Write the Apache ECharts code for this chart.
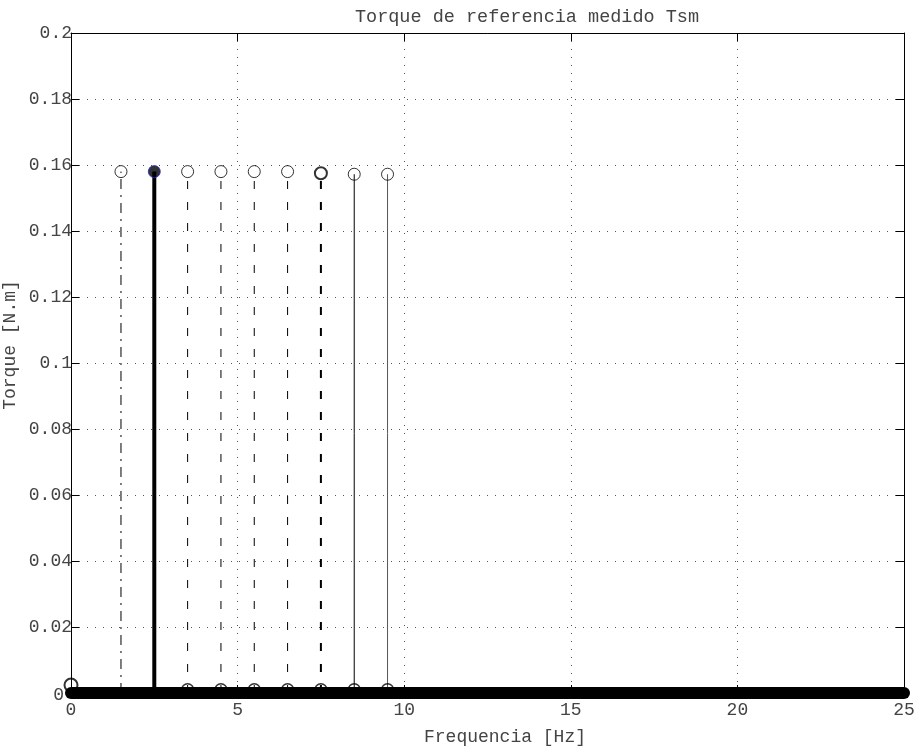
<!DOCTYPE html>
<html>
<head>
<meta charset="utf-8">
<script src="https://cdn.jsdelivr.net/npm/echarts@6/dist/echarts.min.js"></script>
<style>
  html, body { margin: 0; padding: 0; background: #fff; }
  #chart { width: 923px; height: 747px; }
</style>
</head>
<body>
<div id="chart"></div>
<script>
// Harmonic content of the measured reference torque (stem plot)
const stemFreq   = [1.5, 2.5, 3.5, 4.5, 5.5, 6.5, 7.5, 8.5, 9.5];
const stemTorque = [0.158, 0.158, 0.158, 0.158, 0.158, 0.158, 0.1575, 0.1572, 0.1572];
// Near-zero markers of each stem group, showing on the baseline
const baseFreq   = [3.5, 4.5, 5.5, 6.5, 7.5, 8.5, 9.5];
const baseTorque = [0.001, 0.001, 0.001, 0.001, 0.001, 0.001, 0.001];
// DC component
const dcFreq = [0];
const dcTorque = [0.0024];
// Dense baseline of zero-valued samples over the whole span
const floorFreq = [0, 25];
const floorTorque = [0, 0];

const xTicks = [0, 5, 10, 15, 20, 25];
const yTicks = [0, 0.02, 0.04, 0.06, 0.08, 0.1, 0.12, 0.14, 0.16, 0.18, 0.2];

const titleText = 'Torque de referencia medido Tsm';
const xLabelText = 'Frequencia [Hz]';
const yLabelText = 'Torque [N.m]';

// line style of each stem, in the order of stemFreq
const stemStyles = [
  { type: [10, 6, 2, 6], width: 1, color: '#000', mark: 1 },
  { type: 'solid', width: 4, color: '#000', mark: 1, filled: true },
  { type: [8, 13], width: 1, color: '#000', mark: 1 },
  { type: [8, 13], width: 1, color: '#000', mark: 1 },
  { type: [8, 13], width: 1, color: '#000', mark: 1 },
  { type: [8, 13], width: 1, color: '#000', mark: 1 },
  { type: [8, 13], width: 2, color: '#000', mark: 2 },
  { type: 'solid', width: 1, color: '#000', mark: 1 },
  { type: 'solid', width: 1, color: '#555', mark: 1 }
];

const FONT = '"Liberation Mono", "DejaVu Sans Mono", monospace';
const TEXT_COLOR = '#444';
const chart = echarts.init(document.getElementById('chart'), null, { renderer: 'canvas' });

const fmt = v => String(+v.toFixed(2));
// the zero label on the y axis sits just left of the thick baseline
const fmtY = v => (Math.abs(v) < 1e-9 ? '{zero|0}' : fmt(v));

const series = [];
stemFreq.forEach((f, i) => {
  const st = stemStyles[i];
  series.push({
    type: 'line',
    data: [[f, 0], [f, stemTorque[i]]],
    showSymbol: false,
    symbol: 'none',
    silent: true,
    z: 3,
    lineStyle: { type: st.type, width: st.width, color: st.color, cap: 'butt' }
  });
});

series.push({
  type: 'scatter',
  symbol: 'circle',
  symbolSize: 12,
  z: 5,
  silent: true,
  data: stemFreq.map((f, i) => ({
    value: [f, stemTorque[i]],
    itemStyle: stemStyles[i].filled
      ? { color: '#000', borderColor: '#2a2ad0', borderWidth: 1 }
      : { color: 'rgba(0,0,0,0)', borderColor: '#000', borderWidth: stemStyles[i].mark }
  }))
});

series.push({
  type: 'line',
  data: floorFreq.map((f, i) => [f, floorTorque[i]]),
  showSymbol: false,
  symbol: 'none',
  clip: false,
  silent: true,
  z: 6,
  lineStyle: { color: '#000', width: 12, cap: 'round' }
});

series.push({
  type: 'scatter',
  symbol: 'circle',
  symbolSize: 12,
  z: 5,
  silent: true,
  clip: false,
  itemStyle: { color: 'rgba(0,0,0,0)', borderColor: '#000', borderWidth: 1.5 },
  data: baseFreq.map((f, i) => [f, baseTorque[i]])
});

series.push({
  type: 'scatter',
  symbol: 'circle',
  symbolSize: 13,
  z: 7,
  silent: true,
  clip: false,
  itemStyle: { color: 'rgba(0,0,0,0)', borderColor: '#000', borderWidth: 2 },
  data: dcFreq.map((f, i) => [f, dcTorque[i]])
});

const tickStyle = { show: true, inside: true, length: 8, lineStyle: { color: '#000', width: 1 } };
const axisLine = { show: true, onZero: false, lineStyle: { color: '#000', width: 1 } };
const gridLine = { show: true, lineStyle: { color: '#555', width: 1, type: [1, 7] } };

chart.setOption({
  animation: false,
  backgroundColor: '#fff',
  grid: { left: 71, right: 19, top: 33, bottom: 54, containLabel: false },
  title: [
    { text: titleText, left: 522, top: 3, textAlign: 'center',
      textStyle: { fontFamily: FONT, fontSize: 18.5, fontWeight: 'normal', color: TEXT_COLOR } },
    { text: xLabelText, left: 500, top: 723, textAlign: 'center',
      textStyle: { fontFamily: FONT, fontSize: 18, fontWeight: 'normal', color: TEXT_COLOR } }
  ],
  graphic: [{
    type: 'text',
    x: 10, y: 345,
    rotation: Math.PI / 2,
    style: { text: yLabelText, font: '18px ' + FONT, fill: TEXT_COLOR, align: 'center', verticalAlign: 'middle' },
    z: 10
  }],
  xAxis: [
    {
      type: 'value', position: 'bottom', min: xTicks[0], max: xTicks[xTicks.length - 1], interval: 5,
      axisLine, axisTick: tickStyle, splitLine: gridLine,
      axisLabel: { margin: 8, color: TEXT_COLOR, fontFamily: FONT, fontSize: 18, formatter: fmt }
    },
    {
      type: 'value', position: 'top', min: xTicks[0], max: xTicks[xTicks.length - 1], interval: 5,
      axisLine, axisTick: tickStyle, splitLine: { show: false }, axisLabel: { show: false }
    }
  ],
  yAxis: [
    {
      type: 'value', position: 'left', min: yTicks[0], max: yTicks[yTicks.length - 1], interval: 0.02,
      axisLine, axisTick: tickStyle, splitLine: gridLine,
      axisLabel: {
        margin: -1, color: TEXT_COLOR, fontFamily: FONT, fontSize: 18, formatter: fmtY,
        rich: { zero: { color: TEXT_COLOR, fontFamily: FONT, fontSize: 18, padding: [4, 8, 0, 0] } }
      }
    },
    {
      type: 'value', position: 'right', min: yTicks[0], max: yTicks[yTicks.length - 1], interval: 0.02,
      axisLine, axisTick: tickStyle, splitLine: { show: false }, axisLabel: { show: false }
    }
  ],
  series
});
</script>
</body>
</html>
